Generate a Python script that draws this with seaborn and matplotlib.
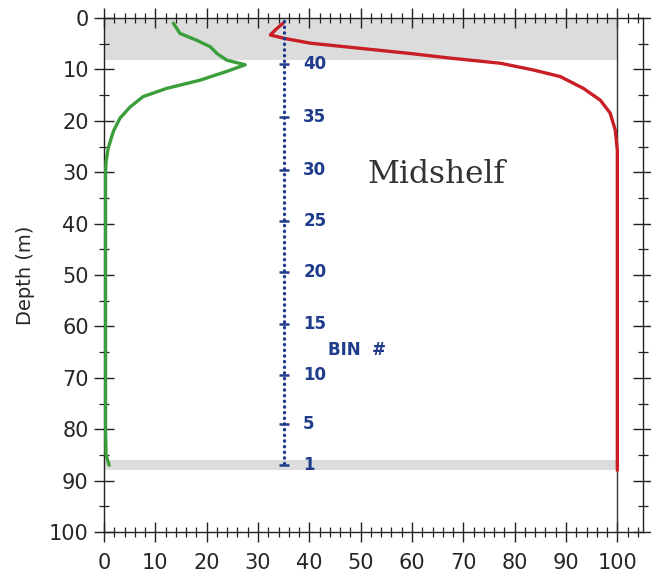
import numpy as np
import pandas as pd
import matplotlib
matplotlib.use("Agg")
import matplotlib.pyplot as plt
from matplotlib.ticker import MultipleLocator
import seaborn as sns

# ---- data ----
green_x = [13.5, 14.8, 18.0, 20.7, 22.0, 23.9, 27.5, 23.9, 18.7, 12.2, 7.6, 5.1, 3.1, 1.8, 0.8,
           0.4, 0.3, 0.3, 0.3, 0.3, 0.3, 0.3, 0.4, 1.0]
green_depth = [1.0, 3.0, 4.3, 5.6, 6.9, 8.2, 9.1, 10.4, 12.1, 13.7, 15.3, 17.3, 19.5, 22.1, 25.4,
               28, 30, 40, 50, 60, 70, 80, 85, 87]

red_x = [34.9, 33.5, 32.4, 35.3, 40.2, 49.9, 59.6, 67.4, 77.2, 83.6, 88.9, 93.4, 96.7, 98.6, 99.6,
         100.0, 100.0, 100.0]
red_depth = [1.0, 2.2, 3.3, 4.0, 4.9, 5.9, 6.9, 7.8, 8.8, 10.1, 11.4, 13.7, 16.0, 18.5, 21.8,
             25.7, 60.0, 88.0]

bin_labels = [1, 5, 10, 15, 20, 25, 30, 35, 40]
bin_depths = [87, 79, 69.5, 59.5, 49.5, 39.5, 29.5, 19.3, 9]
bin_x = 35
bin_line_depth = [0.5, 87]

band_top = (0, 8.2)
band_bottom = (86, 88)

x_ticks = [0, 10, 20, 30, 40, 50, 60, 70, 80, 90, 100]
y_ticks = [0, 10, 20, 30, 40, 50, 60, 70, 80, 90, 100]

sns.set_style("white")
plt.rcParams['font.family'] = ['DejaVu Sans']

fig = plt.figure(figsize=(6.51, 5.76), dpi=100)
ax = fig.add_axes([104/651, 1 - 532/576, (643 - 104)/651, (532 - 18)/576])

xmax = 105
ax.set_xlim(0, xmax)
ax.set_ylim(100, 0)

# gray bands
ax.axhspan(band_top[0], band_top[1], xmin=0, xmax=100/xmax, color='#dcdcdc', lw=0, zorder=0)
ax.axhspan(band_bottom[0], band_bottom[1], xmin=0, xmax=100/xmax, color='#dcdcdc', lw=0, zorder=0)
ax.axvline(100, color='#333333', lw=1.0, zorder=1)

green_df = pd.DataFrame({"x": green_x, "depth": green_depth})
red_df = pd.DataFrame({"x": red_x, "depth": red_depth})
sns.lineplot(data=green_df, x="x", y="depth", sort=False, estimator=None,
             color='#3a9e3a', lw=2.4, ax=ax, zorder=3)
sns.lineplot(data=red_df, x="x", y="depth", sort=False, estimator=None,
             color='#c81e24', lw=2.4, ax=ax, zorder=3)

# bin column
navy = '#1f3c8c'
ax.plot([bin_x, bin_x], bin_line_depth, color=navy, lw=2.4,
        linestyle=(0, (0.1, 1.6)), dash_capstyle='round', zorder=4)
ax.scatter([bin_x] * len(bin_depths), bin_depths, marker='_', s=60, color=navy, lw=1.8, zorder=5)
for lab, d in zip(bin_labels, bin_depths):
    ax.text(bin_x + 3.8, d, str(lab), color=navy, fontsize=12, fontweight='bold',
            va='center', ha='left', zorder=5)
ax.text(49.2, 64.6, "BIN  #", color=navy, fontsize=12, fontweight='bold', va='center', ha='center')

ax.text(64.8, 30.5, "Midshelf", fontsize=22.5, family='DejaVu Serif', color='#333333',
        va='center', ha='center')

# ticks and spines
ax.set_xticks(x_ticks)
ax.set_yticks(y_ticks)
ax.xaxis.set_minor_locator(MultipleLocator(2))
ax.yaxis.set_minor_locator(MultipleLocator(5))
ax.tick_params(which='major', direction='inout', length=14, width=1.0, color='#222222',
               top=True, right=True, bottom=True, left=True, labelsize=15, pad=4)
ax.tick_params(which='minor', direction='inout', length=7, width=0.9, color='#222222',
               top=True, right=True, bottom=True, left=True)
ax.tick_params(axis='x', which='major', pad=8)
for s in ax.spines.values():
    s.set_color('#222222')
    s.set_linewidth(1.0)

ax.set_xlabel("")
ax.set_ylabel("Depth (m)", fontsize=14, labelpad=10)

fig.savefig("out.png", dpi=100)
